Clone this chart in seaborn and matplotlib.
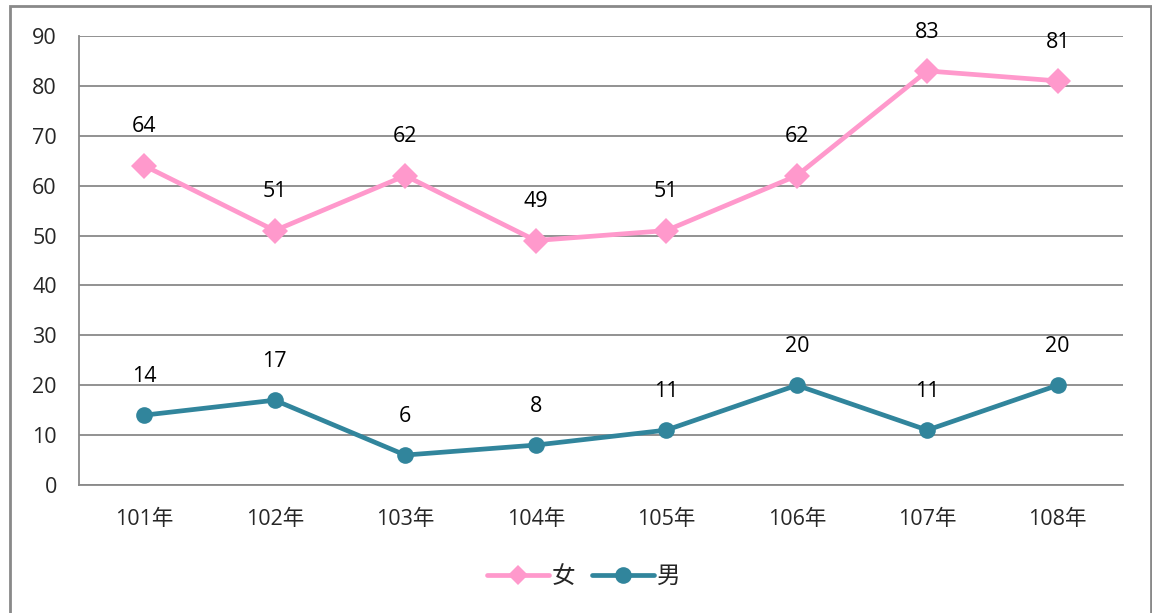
import matplotlib
matplotlib.use("Agg")
import matplotlib.pyplot as plt
import seaborn as sns
import pandas as pd
from matplotlib.patches import Rectangle
from matplotlib.lines import Line2D

years = ["101年", "102年", "103年", "104年", "105年", "106年", "107年", "108年"]
female = [64, 51, 62, 49, 51, 62, 83, 81]
male = [14, 17, 6, 8, 11, 20, 11, 20]
series_names = ["女", "男"]
colors = {"女": "#FF99CC", "男": "#31859C"}

sns.set_theme(style="white")
plt.rcParams['font.family'] = ['Open Sans', 'Noto Sans CJK TC', 'DejaVu Sans']

W, H = 1152, 613
fig = plt.figure(figsize=(W / 100, H / 100), dpi=100)
fig.patch.set_facecolor("white")

# outer border
fig.patches.append(Rectangle((10 / W, -0.05), (1151 - 10) / W, (H - 6) / H + 0.05,
                             transform=fig.transFigure, fill=False,
                             edgecolor="#898989", linewidth=2))

left, right, top, bottom = 79, 1123, 36, 485
ax = fig.add_axes([left / W, (H - bottom) / H, (right - left) / W, (bottom - top) / H])

idx = list(range(len(years)))
df = pd.DataFrame({
    "x": idx * 2,
    "value": female + male,
    "series": [series_names[0]] * len(years) + [series_names[1]] * len(years),
})

sns.lineplot(data=df[df.series == "女"], x="x", y="value", color=colors["女"],
             linewidth=3.4, marker="D", markersize=13, markeredgewidth=0, ax=ax, legend=False)
sns.lineplot(data=df[df.series == "男"], x="x", y="value", color=colors["男"],
             linewidth=3.4, marker="o", markersize=12, markeredgewidth=0, ax=ax, legend=False)

for xi, v in zip(idx, female):
    ax.annotate(str(v), (xi, v), xytext=(0, 28), textcoords="offset points",
                ha="center", va="center", fontsize=15.5, color="black")
for xi, v in zip(idx, male):
    ax.annotate(str(v), (xi, v), xytext=(0, 28), textcoords="offset points",
                ha="center", va="center", fontsize=15.5, color="black")

ax.set_xlim(-0.5, len(years) - 0.5)
ax.set_ylim(0, 90)
ax.set_yticks(range(0, 91, 10))
ax.set_xticks([i - 0.5 for i in range(len(years) + 1)])
ax.set_xticklabels([])
ax.set_xticks(idx, minor=True)
ax.set_xticklabels(years, minor=True)
ax.tick_params(axis="x", which="major", length=6, width=1.3, color="#898989", direction="out")
ax.tick_params(axis="x", which="minor", length=0, pad=17, labelsize=15.5)
ax.tick_params(axis="y", length=7, width=1.3, color="#898989", direction="out", labelsize=15.5, pad=9)
ax.grid(axis="y", color="#898989", linewidth=1.3)
ax.set_axisbelow(True)
ax.set_xlabel("")
ax.set_ylabel("")
for s in ["top", "right"]:
    ax.spines[s].set_visible(False)
for s in ["left", "bottom"]:
    ax.spines[s].set_color("#898989")
    ax.spines[s].set_linewidth(1.3)

handles = [
    Line2D([], [], color=colors["女"], linewidth=3.4, marker="D", markersize=10, markeredgewidth=0),
    Line2D([], [], color=colors["男"], linewidth=3.4, marker="o", markersize=12, markeredgewidth=0),
]
fig.legend(handles, series_names, loc="center", bbox_to_anchor=(584 / W, (H - 577) / H),
           ncol=2, frameon=False, fontsize=17, handlelength=2.6, columnspacing=0.7,
           handletextpad=0.15)

fig.savefig("out.png", dpi=100)
